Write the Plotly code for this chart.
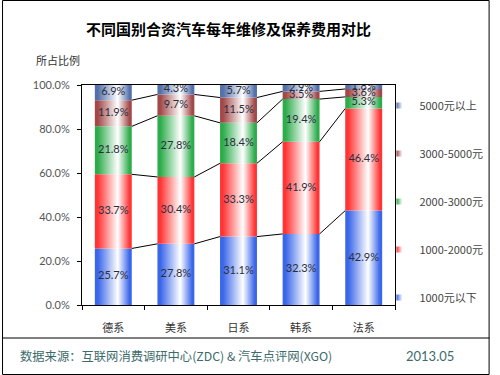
import plotly.graph_objects as go

categories = ["德系", "美系", "日系", "韩系", "法系"]
series_names = ["1000元以下", "1000-2000元", "2000-3000元", "3000-5000元", "5000元以上"]
v_below1000 = [25.7, 27.8, 31.1, 32.3, 42.9]
v_1000_2000 = [33.7, 30.4, 33.3, 41.9, 46.4]
v_2000_3000 = [21.8, 27.8, 18.4, 19.4, 5.3]
v_3000_5000 = [11.9, 9.7, 11.5, 3.5, 3.6]
v_above5000 = [6.9, 4.3, 5.7, 2.9, 1.8]
y_ticks = [0, 20, 40, 60, 80, 100]

series_values = [v_below1000, v_1000_2000, v_2000_3000, v_3000_5000, v_above5000]
colors = ["#3A66EA", "#FF3535", "#2EAC4C", "#A24848", "#5470AA"]

W, H = 500, 375
L, R, T, B = 82, 97, 85, 70
PW, PH = W - L - R, H - T - B


def px_x(p):
    return (p - L) / PW


def px_y(p):
    return (H - B - p) / PH


bar_w = 0.59
font_cn = "Noto Sans CJK SC"
num_font = "Lato, Noto Sans CJK SC"

fig = go.Figure()

n = len(categories)
base = [0.0] * n
tops = []
for s, vals in enumerate(series_values):
    c = colors[s]
    cs = [[0, c], [0.08, c], [0.62, "#FFFFFF"], [0.94, c], [1, c]]
    top = []
    for i, v in enumerate(vals):
        b0 = base[i]
        b1 = b0 + v
        x0, x1 = i - bar_w / 2, i + bar_w / 2
        fig.add_trace(go.Scatter(
            x=[x0, x1, x1, x0, x0], y=[b0, b0, b1, b1, b0],
            mode="lines", line=dict(width=0), fill="toself",
            fillgradient=dict(type="horizontal", colorscale=cs),
            showlegend=False, hoverinfo="skip"))
        top.append(b1)
    tops.append(top)
    base = top

# labels
base = [0.0] * n
for s, vals in enumerate(series_values):
    fig.add_trace(go.Scatter(
        x=list(range(n)), y=[base[i] + v / 2 for i, v in enumerate(vals)],
        text=[f"{v:.1f}%" for v in vals], mode="text",
        textfont=dict(family=num_font, size=11, color="#2A2D40"),
        showlegend=False, hoverinfo="skip"))
    base = [base[i] + v for i, v in enumerate(vals)]

# series lines
for s in range(len(series_values) - 1):
    xs, ys = [], []
    for i in range(n - 1):
        xs += [i + bar_w / 2, i + 1 - bar_w / 2, None]
        ys += [tops[s][i], tops[s][i + 1], None]
    fig.add_trace(go.Scatter(x=xs, y=ys, mode="lines",
                             line=dict(color="#000000", width=1),
                             showlegend=False, hoverinfo="skip"))

# legend entries (top to bottom)
for s in reversed(range(len(series_names))):
    fig.add_trace(go.Scatter(
        x=[None], y=[None], mode="markers", name=series_names[s],
        legendgroup=series_names[s],
        marker=dict(symbol="square", size=6, color=colors[s],
                    gradient=dict(type="horizontal", color="#FFFFFF")),
    ))

shapes = [
    dict(type="line", xref="paper", yref="paper", x0=px_x(0), x1=px_x(W),
         y0=px_y(338), y1=px_y(338), line=dict(color="#000000", width=1)),
    dict(type="rect", xref="paper", yref="paper", x0=px_x(0.5), x1=px_x(W - 0.5),
         y0=px_y(0.5), y1=px_y(H - 0.5), line=dict(color="#000000", width=1)),
]

annotations = [
    dict(text="<b>不同国别合资汽车每年维修及保养费用对比</b>", xref="paper", yref="paper",
         x=px_x(232), y=px_y(28), showarrow=False, xanchor="center", yanchor="middle",
         font=dict(family=font_cn, size=15, color="#000000")),
    dict(text="所占比例", xref="paper", yref="paper",
         x=px_x(33), y=px_y(60), showarrow=False, xanchor="left", yanchor="middle",
         font=dict(family=font_cn, size=11, color="#333333")),
    dict(text="数据来源：互联网消费调研中心(ZDC) & 汽车点评网(XGO)", xref="paper", yref="paper",
         x=px_x(16), y=px_y(356), showarrow=False, xanchor="left", yanchor="middle",
         font=dict(family=font_cn, size=12.3, color="#3D6B6B")),
    dict(text="2013.05", xref="paper", yref="paper",
         x=px_x(466), y=px_y(356), showarrow=False, xanchor="right", yanchor="middle",
         font=dict(family=num_font, size=13, color="#3D6B6B")),
]

fig.update_layout(
    width=W, height=H,
    margin=dict(l=L, r=R, t=T, b=B),
    paper_bgcolor="#FFFFFF", plot_bgcolor="#FFFFFF",
    showlegend=True,
    legend=dict(x=px_x(387), y=px_y(91), xanchor="left", yanchor="top",
                font=dict(family=font_cn, size=11, color="#444444"),
                tracegroupgap=29, itemwidth=30, bgcolor="rgba(0,0,0,0)",
                maxheight=320),
    shapes=shapes, annotations=annotations,
    xaxis=dict(range=[-0.5, n - 0.5], tickvals=list(range(n)), ticktext=categories,
               ticks="", showgrid=False, zeroline=False, ticklabelstandoff=13,
               showline=True, linecolor="#000000", linewidth=1, mirror=True,
               tickfont=dict(family=font_cn, size=11, color="#333333"),
               minor=dict(tickvals=[i - 0.5 for i in range(n + 1)], ticks="outside",
                          ticklen=4, tickcolor="#000000", showgrid=False)),
    yaxis=dict(range=[0, 100], tickvals=y_ticks, ticktext=[f"{t:.1f}%" for t in y_ticks],
               ticks="outside", ticklen=4, tickcolor="#000000", showgrid=False,
               ticklabelstandoff=5,
               zeroline=False, showline=True, linecolor="#000000", linewidth=1, mirror=True,
               tickfont=dict(family=num_font, size=11, color="#555555")),
)

fig.write_html("out.html", config={"displayModeBar": False},
               post_script="document.body.style.margin='0';document.body.style.overflow='hidden';")
